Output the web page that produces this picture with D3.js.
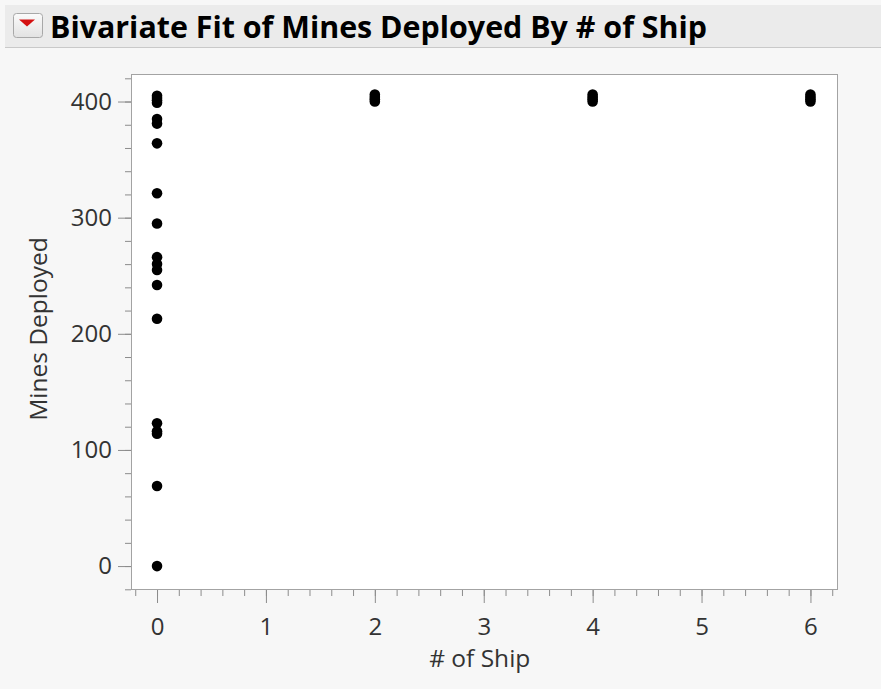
<!DOCTYPE html>
<html>
<head>
<meta charset="utf-8">
<script src="https://cdn.jsdelivr.net/npm/d3@7"></script>
<style>
  body { margin: 0; background: #f7f7f7; }
  svg { display: block; }
</style>
</head>
<body>
<script>
const width = 881;
const height = 689;

// data
const title = 'Bivariate Fit of Mines Deployed By # of Ship';
const xLabel = '# of Ship';
const yLabel = 'Mines Deployed';
const ships = [0, 0, 0, 0, 0, 0, 0, 0, 0, 0, 0, 0, 0, 0, 0, 0, 0, 0, 0,
    2, 2, 2, 2, 4, 4, 4, 4, 6, 6, 6, 6];
const mines = [405, 403, 401, 399, 385, 381, 364, 321, 295, 266, 260, 255, 242, 213, 123, 116, 114, 69, 0,
    400, 402, 404, 406, 400, 402, 404, 406, 400, 402, 404, 406];
const xTicks = [0, 1, 2, 3, 4, 5, 6];
const yTicks = [0, 100, 200, 300, 400];

const frame = { left: 131, right: 838, top: 74, bottom: 590 };

const x = d3.scaleLinear().domain([-0.239, 6.253]).range([frame.left, frame.right]);
const y = d3.scaleLinear().domain([-20.6, 423.7]).range([frame.bottom, frame.top]);

const svg = d3.select('body')
    .append('svg')
    .attr('width', width)
    .attr('height', height);

// header bar
const grad = svg.append('defs').append('linearGradient')
    .attr('id', 'btn').attr('x1', 0).attr('y1', 0).attr('x2', 0).attr('y2', 1);
grad.append('stop').attr('offset', '0%').attr('stop-color', '#fbfbfb');
grad.append('stop').attr('offset', '100%').attr('stop-color', '#e2e2e2');

svg.append('rect')
    .attr('width', width).attr('height', height)
    .attr('fill', '#f7f7f7');
svg.append('rect')
    .attr('x', 5).attr('y', 5)
    .attr('width', width - 5).attr('height', 42)
    .attr('fill', '#ebebeb');
svg.append('line')
    .attr('x1', 5).attr('x2', width)
    .attr('y1', 47.5).attr('y2', 47.5)
    .attr('stroke', '#c9c9c9');

svg.append('rect')
    .attr('x', 13.5).attr('y', 13.5)
    .attr('width', 29).attr('height', 24)
    .attr('rx', 3)
    .attr('fill', 'url(#btn)')
    .attr('stroke', '#a8a8a8');
svg.append('path')
    .attr('d', 'M19,19.5 L35,19.5 L27,26.5 Z')
    .attr('fill', '#d41010');

svg.append('text')
    .attr('x', 50)
    .attr('y', 38)
    .attr('font-family', 'Open Sans')
    .attr('font-weight', 700)
    .attr('font-size', 31)
    .attr('textLength', 657)
    .attr('lengthAdjust', 'spacingAndGlyphs')
    .attr('fill', '#000')
    .text(title);

// plot area
svg.append('rect')
    .attr('x', frame.left).attr('y', frame.top)
    .attr('width', frame.right - frame.left)
    .attr('height', frame.bottom - frame.top)
    .attr('fill', '#fff');

const xAxis = svg.append('g')
    .attr('transform', `translate(0,${frame.bottom})`);
xAxis.append('g')
    .call(d3.axisBottom(x).tickValues(d3.range(-0.2, 6.3, 0.2)).tickSize(6).tickFormat(''))
    .call(g => g.select('.domain').remove());
xAxis.append('g')
    .call(d3.axisBottom(x).tickValues(xTicks).tickSize(13).tickPadding(15).tickFormat(d3.format('d')))
    .call(g => g.select('.domain').remove());
xAxis.selectAll('line').attr('stroke', '#8c8c8c');
xAxis.selectAll('text')
    .attr('font-family', 'Open Sans')
    .attr('font-size', 24)
    .attr('fill', '#333');

const yAxis = svg.append('g')
    .attr('transform', `translate(${frame.left},0)`);
yAxis.append('g')
    .call(d3.axisLeft(y).tickValues(d3.range(-20, 421, 20)).tickSize(6).tickFormat(''))
    .call(g => g.select('.domain').remove());
yAxis.append('g')
    .call(d3.axisLeft(y).tickValues(yTicks).tickSize(13).tickPadding(6).tickFormat(d3.format('d')))
    .call(g => g.select('.domain').remove());
yAxis.selectAll('line').attr('stroke', '#8c8c8c');
yAxis.selectAll('text')
    .attr('font-family', 'Open Sans')
    .attr('font-size', 24)
    .attr('fill', '#333');

svg.append('rect')
    .attr('x', frame.left + 0.5).attr('y', frame.top + 0.5)
    .attr('width', frame.right - frame.left - 1)
    .attr('height', frame.bottom - frame.top - 1)
    .attr('fill', 'none')
    .attr('stroke', '#a3a3a3');

// points
svg.append('g')
    .selectAll('circle')
    .data(d3.range(ships.length))
    .join('circle')
    .attr('cx', (i) => x(ships[i]))
    .attr('cy', (i) => y(mines[i]))
    .attr('r', 5.3)
    .attr('fill', '#000');

// axis titles
svg.append('text')
    .attr('x', x(3) - 4)
    .attr('y', 667)
    .attr('text-anchor', 'middle')
    .attr('font-family', 'Open Sans')
    .attr('font-size', 24.5)
    .attr('fill', '#333')
    .text(xLabel);

svg.append('text')
    .attr('transform', `translate(47,${(238 + 420) / 2}) rotate(-90)`)
    .attr('text-anchor', 'middle')
    .attr('font-family', 'Open Sans')
    .attr('font-size', 24.5)
    .attr('fill', '#333')
    .text(yLabel);
</script>
</body>
</html>
